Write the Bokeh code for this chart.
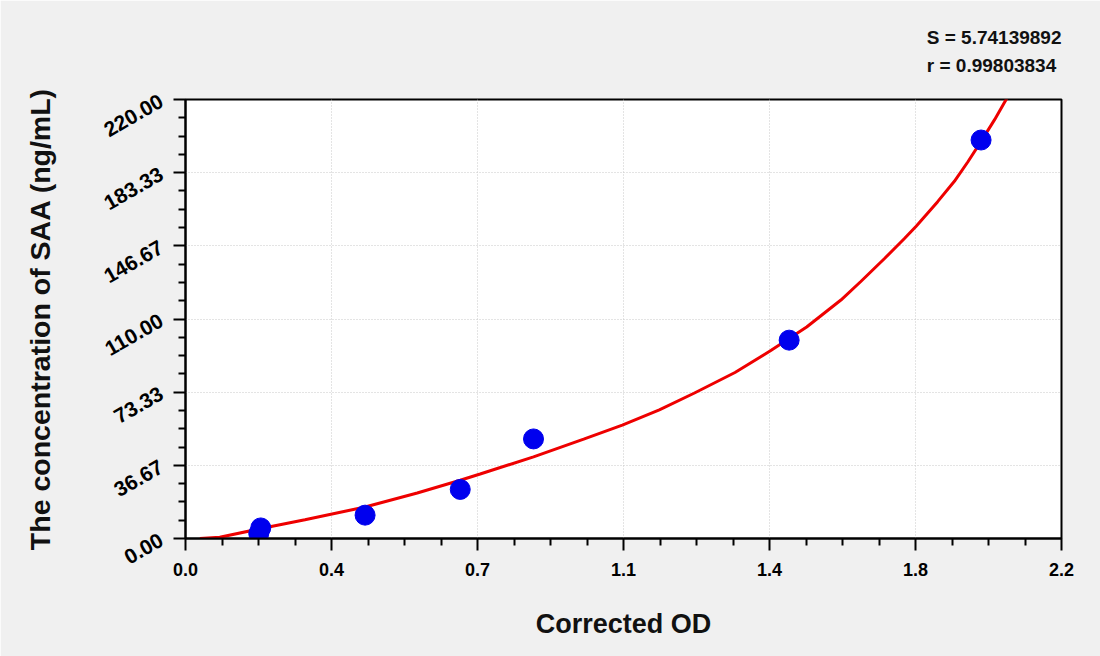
from bokeh.plotting import figure
from bokeh.models import FixedTicker, Range1d, Title
from bokeh.embed import file_html
from bokeh.resources import INLINE

# ---- data ----
od_points = [0.184, 0.189, 0.451, 0.690, 0.874, 1.516, 1.998]
conc_points = [2.5, 5.3, 11.7, 24.6, 49.9, 99.4, 199.7]

curve_od = [0.036, 0.086, 0.19, 0.30, 0.451, 0.582, 0.69, 0.74, 0.874, 1.00, 1.097,
            1.19, 1.277, 1.38, 1.47, 1.56, 1.646, 1.696, 1.755, 1.805, 1.835,
            1.889, 1.931, 1.965, 1.998, 2.032, 2.065]
curve_conc = [0.0, 0.6, 5.0, 9.4, 15.8, 22.8, 29.2, 32.3, 40.9, 49.8, 56.8,
              64.5, 72.8, 83.2, 94.2, 106.0, 119.5, 128.8, 140.2, 150.2, 156.5,
              168.8, 179.0, 188.8, 199.0, 209.9, 221.4]

x_ticks = [0.0, 2.2 / 6, 2 * 2.2 / 6, 1.1, 4 * 2.2 / 6, 5 * 2.2 / 6, 2.2]
x_tick_labels = ["0.0", "0.4", "0.7", "1.1", "1.4", "1.8", "2.2"]
y_ticks = [0.0, 220 / 6, 2 * 220 / 6, 110.0, 4 * 220 / 6, 5 * 220 / 6, 220.0]
y_tick_labels = ["0.00", "36.67", "73.33", "110.00", "146.67", "183.33", "220.00"]

stat_lines = ["S = 5.74139892", "r = 0.99803834"]

x_label = "Corrected OD"
y_label = "The concentration of SAA (ng/mL)"

FONT = "Liberation Sans"
BG = "#f0f0f0"

p = figure(width=1100, height=656, output_backend="svg", toolbar_location=None,
           x_range=Range1d(0, 2.2), y_range=Range1d(0, 220),
           min_border_left=185, min_border_right=39, min_border_top=99, min_border_bottom=118)
p.background_fill_color = "white"
p.border_fill_color = BG
p.outline_line_color = "black"
p.outline_line_width = 2

# minor ticks: 4 subdivisions
x_minor = [x_ticks[i] + (x_ticks[i + 1] - x_ticks[i]) * k / 4 for i in range(6) for k in (1, 2, 3)]
y_minor = [y_ticks[i] + (y_ticks[i + 1] - y_ticks[i]) * k / 4 for i in range(6) for k in (1, 2, 3)]
p.xaxis.ticker = FixedTicker(ticks=x_ticks, minor_ticks=x_minor)
p.yaxis.ticker = FixedTicker(ticks=y_ticks, minor_ticks=y_minor)
p.xaxis.major_label_overrides = {t: l for t, l in zip(x_ticks, x_tick_labels)}
p.yaxis.major_label_overrides = {t: l for t, l in zip(y_ticks, y_tick_labels)}

for ax in (p.xaxis[0], p.yaxis[0]):
    ax.axis_line_color = "black"
    ax.axis_line_width = 2
    ax.major_tick_line_color = "black"
    ax.major_tick_line_width = 2
    ax.minor_tick_line_color = "black"
    ax.minor_tick_line_width = 2
    ax.major_tick_out = 12
    ax.major_tick_in = 0
    ax.minor_tick_out = 7
    ax.minor_tick_in = 0
    ax.major_label_text_font = FONT
    ax.major_label_text_font_style = "bold"
    ax.major_label_text_color = "black"
    ax.axis_label_text_font = FONT
    ax.axis_label_text_font_style = "bold"
    ax.axis_label_text_color = "#111111"

p.xaxis.axis_label = x_label
p.yaxis.axis_label = y_label
p.xaxis.axis_label_text_font_size = "27px"
p.yaxis.axis_label_text_font_size = "28.5px"
p.xaxis.major_label_text_font_size = "18px"
p.xaxis.major_label_standoff = 12
p.xaxis.axis_label_standoff = 30
p.yaxis.major_label_text_font_size = "21px"
p.yaxis.major_label_standoff = 12
p.yaxis.major_label_orientation = 0.52
p.yaxis.axis_label_standoff = 40

p.xgrid.grid_line_color = "#c8c8c8"
p.xgrid.grid_line_dash = "1 2"
p.xgrid.grid_line_width = 1
p.ygrid.grid_line_color = "#c8c8c8"
p.ygrid.grid_line_dash = "1 2"
p.ygrid.grid_line_width = 1

p.line(curve_od, curve_conc, line_color="#ee0000", line_width=3)
p.scatter(od_points, conc_points, size=20, fill_color="#0000ee", line_color="#0000ee")

# stats text above the plot, right aligned, two lines
p.add_layout(Title(text="\n".join(stat_lines), align="right", text_font=FONT,
                   text_font_style="bold", text_font_size="19px", text_line_height=1.35,
                   text_color="#111111", standoff=47), "above")

open("out.html", "w").write(file_html(p, INLINE))
